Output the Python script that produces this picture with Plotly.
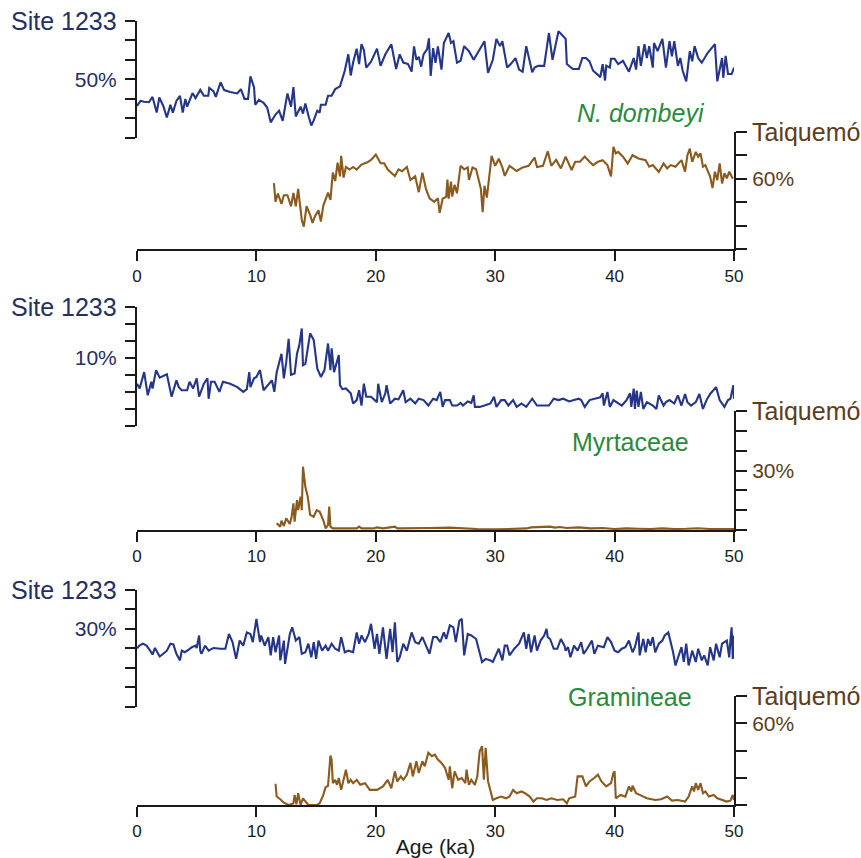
import plotly.graph_objects as go

# ---------------- data ----------------
# Panel 1: N. dombeyi
nd_site_age = [0, 0.3, 0.6, 1.0, 1.3, 1.65, 1.87, 2.2, 2.5, 2.8, 3.0, 3.3, 3.6, 3.83, 4.05, 4.2, 4.65, 4.9, 5.3, 5.6, 5.97, 6.05, 6.4, 6.6, 7.0, 7.3, 7.8, 8.4, 8.7, 9.0, 9.3, 9.5, 9.8, 9.9, 10.2, 10.6, 10.9, 11.2, 11.6, 11.9, 12.2, 12.6, 12.9, 13.1, 13.3, 13.7, 13.9, 14.1, 14.4, 14.6, 14.8, 15.1, 15.3, 15.4, 15.8, 16.0, 16.3, 16.6, 17.0, 17.4, 17.7, 17.9, 18.1, 18.4, 18.6, 18.8, 19.0, 19.2, 19.6, 20.1, 20.4, 20.8, 21.3, 21.7, 22.0, 22.3, 22.7, 23.0, 23.2, 23.4, 23.6, 23.8, 24.0, 24.3, 24.45, 24.6, 24.8, 25.0, 25.2, 25.4, 25.5, 25.7, 25.9, 26.1, 26.3, 26.5, 26.8, 27.1, 27.4, 27.8, 28.2, 28.6, 29.1, 29.4, 29.8, 30.1, 30.4, 30.6, 31.0, 31.3, 31.7, 32.0, 32.3, 32.6, 33.1, 33.3, 33.6, 34.1, 34.5, 34.8, 35.3, 35.9, 36.0, 36.5, 37.0, 37.3, 37.6, 37.9, 38.2, 38.6, 38.8, 39.0, 39.2, 39.3, 39.6, 39.7, 40.0, 40.3, 40.7, 41.2, 41.6, 41.8, 42.0, 42.2, 42.5, 42.7, 42.9, 43.2, 43.3, 43.6, 44.0, 44.3, 44.6, 44.8, 45.0, 45.3, 45.5, 45.7, 46.0, 46.3, 46.5, 46.7, 47.0, 47.3, 47.8, 48.4, 48.6, 49.0, 49.1, 49.3, 49.5, 49.8, 50.0]
nd_site_val = [36.4, 39, 38.5, 38.3, 41, 33, 40.7, 36.4, 30.5, 37, 33, 39, 41.5, 33, 40, 36, 43, 40.4, 44.6, 41.6, 41.6, 45.6, 44, 41, 48.5, 44.5, 43.5, 42.8, 45, 40, 40, 51.5, 46, 37, 39.5, 38, 35.6, 28, 32, 34, 28.8, 42.8, 36, 46, 31, 36, 32.5, 37.6, 30.5, 26.4, 29, 34, 33, 37, 37, 41.6, 41.6, 45, 46.4, 54.4, 62.8, 52, 58.6, 65.7, 57.8, 68, 65, 56, 59, 65.7, 56.9, 62.8, 68, 55.3, 62.8, 58.6, 57.8, 54, 66.9, 60, 61.5, 56.5, 62.8, 65.5, 71, 51.7, 66, 58.5, 66.9, 58.5, 55, 68.6, 71, 73.7, 68.6, 69.5, 58.5, 59.5, 67, 64.4, 60, 64.4, 69.5, 53.3, 60, 70.7, 67, 69.5, 56, 57.8, 60.9, 55, 53.9, 67, 53.6, 56, 56.9, 56.9, 73.7, 60, 74.6, 70.7, 57.8, 55.3, 55.3, 60.9, 60.9, 59.2, 54.4, 52.3, 51.1, 57.8, 49.4, 57, 56, 60.5, 60.5, 57.8, 59.5, 53.9, 60.9, 55, 67, 56.9, 68, 60.9, 67, 56, 68.6, 64.4, 70.7, 56, 69.5, 61.8, 69.5, 56.9, 60.9, 54.4, 49, 64.4, 59.2, 67, 60.9, 58.5, 63.6, 68, 49, 60.9, 50.8, 62, 52.7, 52.7, 56]

nd_taiq_age = [11.47, 11.6, 11.8, 12.1, 12.3, 12.6, 12.9, 13.1, 13.3, 13.5, 13.8, 13.97, 14.2, 14.5, 14.7, 14.9, 15.2, 15.4, 15.6, 16.0, 16.2, 16.4, 16.6, 16.8, 17.0, 17.1, 17.3, 17.5, 17.8, 18.1, 18.4, 18.8, 19.3, 19.6, 20.0, 20.4, 20.7, 21.0, 21.6, 21.9, 22.2, 22.6, 22.9, 23.3, 23.6, 23.9, 24.2, 24.5, 24.9, 25.2, 25.35, 25.6, 25.9, 26.0, 26.1, 26.3, 26.4, 26.6, 26.8, 27.1, 27.4, 27.7, 27.8, 28.1, 28.4, 28.6, 28.8, 28.95, 29.1, 29.3, 29.5, 29.7, 30.0, 30.3, 30.6, 30.8, 31.2, 31.8, 32.3, 32.8, 33.3, 33.5, 34.0, 34.4, 34.7, 35.1, 35.5, 35.9, 36.4, 36.7, 37.1, 37.5, 37.9, 38.2, 38.6, 39.0, 39.4, 39.7, 39.9, 40.1, 40.3, 40.7, 41.1, 41.5, 42.0, 42.6, 42.9, 43.2, 43.7, 44.1, 44.4, 44.7, 45.1, 45.6, 45.9, 46.1, 46.3, 46.5, 46.8, 47.0, 47.2, 47.4, 47.6, 48.0, 48.2, 48.4, 48.6, 48.8, 49.0, 49.2, 49.4, 49.6, 49.9]
nd_taiq_val = [58.1, 50.2, 53.7, 49.3, 53, 53, 48.3, 54, 48.3, 55.7, 42.5, 39.6, 48.3, 44.7, 41.2, 44, 46.6, 41.8, 48.5, 54.1, 51, 62.6, 59, 66.8, 61, 69.7, 60.5, 65, 63.9, 65, 63.9, 66, 67, 68, 70.3, 66.6, 66.6, 63.9, 61.1, 64, 63.2, 65, 59.5, 61, 54.3, 62.6, 55.7, 51.7, 50.2, 51.7, 45.5, 51.5, 52.4, 59.6, 51.5, 58.8, 52.4, 57.4, 53.8, 65.5, 64, 64.8, 59.5, 64.8, 64, 59.5, 55.7, 45.8, 57, 52, 60, 69.7, 65.5, 68.5, 64.8, 61.2, 65.5, 63.3, 64.8, 65.5, 69, 65, 65.5, 71.7, 65.5, 68, 64.4, 69.4, 63.7, 67.2, 67.2, 69.4, 67.2, 65.8, 67.2, 67.9, 65.8, 61, 73.6, 70.8, 71.4, 69.4, 66.5, 70, 68.6, 67.9, 65.1, 65.8, 62.9, 66.5, 64.4, 65.8, 65.1, 67.9, 63, 70, 72.8, 67.2, 71.4, 69.4, 70.8, 65.1, 65.8, 60.9, 56, 63, 59.4, 66.5, 58, 62.3, 60.2, 63, 60]

# Panel 2: Myrtaceae
my_site_age = [0, 0.22, 0.6, 0.9, 1.2, 1.3, 1.6, 1.9, 2.5, 2.8, 2.9, 3.3, 3.5, 3.74, 4.2, 4.4, 4.7, 5.0, 5.2, 5.6, 5.9, 6.0, 6.2, 6.5, 6.9, 7.2, 7.8, 8.4, 8.9, 9.2, 9.4, 9.5, 9.8, 10.0, 10.3, 10.6, 11.0, 11.3, 11.5, 11.7, 12.1, 12.3, 12.5, 12.7, 12.9, 13.2, 13.4, 13.6, 13.8, 13.9, 14.1, 14.5, 14.8, 15.1, 15.4, 15.7, 16.0, 16.2, 16.3, 16.5, 16.9, 17.0, 17.2, 17.5, 17.9, 18.1, 18.4, 18.6, 18.8, 19.0, 19.2, 19.6, 20.1, 20.2, 20.5, 20.8, 20.9, 21.2, 21.6, 21.9, 22.3, 22.5, 22.9, 23.3, 23.6, 24.0, 24.4, 24.8, 25.1, 25.4, 25.6, 25.8, 26.2, 26.4, 26.8, 27.1, 27.3, 27.7, 28.0, 28.2, 28.3, 28.7, 29.1, 29.6, 29.9, 30.1, 30.5, 30.8, 31.1, 31.5, 31.8, 32.2, 32.6, 33.1, 33.5, 34.5, 34.9, 35.3, 35.7, 36.2, 36.6, 37.0, 37.2, 37.5, 37.9, 38.3, 38.8, 39.0, 39.1, 39.4, 39.6, 39.9, 40.2, 40.6, 41.0, 41.3, 41.4, 41.6, 41.7, 41.85, 42.0, 42.2, 42.4, 42.7, 43.2, 43.5, 43.7, 44.1, 44.3, 44.6, 45.0, 45.3, 45.6, 45.9, 46.1, 46.4, 46.8, 47.1, 47.4, 47.7, 48.0, 48.5, 48.8, 49.2, 49.5, 49.7, 49.95, 50.0]
my_site_val = [6.2, 5.5, 7.9, 4.5, 6.5, 5.5, 8.2, 7.1, 7.6, 5.2, 4.3, 6.7, 5.7, 5.25, 5.25, 6.5, 5.5, 7.0, 4.3, 6.2, 7.0, 4.0, 6.5, 6.5, 5.0, 6.5, 6.2, 5.7, 5.0, 5.4, 7.9, 5.7, 7.0, 7.2, 8.2, 5.25, 6.0, 6.7, 5.0, 7.9, 10.6, 7.0, 9.4, 12.8, 7.5, 7.7, 10.6, 11.9, 14.3, 8.9, 9.1, 13.6, 12.6, 8.4, 7.2, 8.2, 12.1, 8.2, 11.4, 7.9, 10.4, 6.0, 5.4, 5.5, 4.8, 3.3, 3.8, 5.25, 3.0, 6.2, 4.3, 4.3, 3.5, 6.2, 3.5, 4.8, 6.0, 3.3, 4.0, 3.9, 5.25, 3.5, 4.0, 3.3, 4.0, 3.8, 3.0, 4.0, 3.8, 5.0, 2.8, 3.8, 3.8, 3.0, 3.0, 3.4, 3.0, 3.6, 3.4, 4.5, 2.8, 2.8, 3.0, 3.3, 4.3, 2.8, 3.8, 3.8, 3.0, 3.8, 2.8, 3.3, 2.8, 4.0, 3.0, 3.0, 4.0, 3.8, 4.0, 3.6, 3.8, 4.0, 3.8, 2.8, 3.8, 4.0, 4.2, 4.8, 3.0, 5.0, 2.8, 3.8, 3.5, 3.0, 3.8, 4.8, 2.8, 5.5, 2.5, 5.2, 2.8, 5.0, 2.5, 3.5, 3.0, 2.5, 4.5, 3.0, 3.5, 3.8, 3.3, 4.5, 3.0, 4.7, 3.5, 3.0, 3.5, 4.7, 2.5, 3.8, 4.7, 5.7, 3.8, 2.8, 3.8, 4.0, 6.0, 4.0]

my_taiq_age = [11.7, 12.0, 12.1, 12.3, 12.5, 12.8, 12.95, 13.1, 13.2, 13.4, 13.5, 13.7, 13.8, 13.9, 14.1, 14.3, 14.5, 14.8, 15.05, 15.3, 15.6, 15.8, 16.0, 16.1, 16.2, 16.4, 17.6, 18.4, 18.6, 18.8, 19.8, 20.1, 20.6, 21.6, 21.8, 24.0, 24.5, 26.2, 27.3, 28.5, 30.1, 32.6, 33.0, 34.6, 35.0, 35.4, 36.0, 37.0, 38.0, 39.0, 40.0, 41.0, 42.0, 43.0, 44.0, 45.0, 46.0, 47.0, 48.0, 49.0, 50.0]
my_taiq_val = [3.4, 1.7, 4.7, 2.0, 5.9, 3.0, 6.7, 13.4, 4.2, 15.1, 10, 16.8, 10, 31.9, 21.8, 16.8, 7.6, 6.7, 10, 9.2, 5, 0.8, 2.5, 11.8, 1.7, 0.8, 0.8, 0.8, 1.7, 0.8, 0.8, 1.3, 0.8, 1.7, 0.8, 1.2, 1.0, 1.2, 0.8, 0.5, 0.3, 0.8, 1.3, 1.7, 1.2, 1.5, 1.0, 1.3, 0.8, 1.0, 0.5, 0.8, 0.6, 0.5, 0.8, 0.5, 0.6, 0.9, 0.5, 0.6, 0.5]

# Panel 3: Gramineae
gr_site_age = [0, 0.2, 0.5, 0.8, 1.1, 1.3, 1.5, 1.9, 2.2, 2.5, 2.8, 3.05, 3.3, 3.6, 3.75, 4.0, 4.3, 4.6, 4.9, 5.0, 5.2, 5.3, 5.4, 5.7, 6.0, 6.4, 7.0, 7.4, 7.7, 8.0, 8.3, 8.6, 8.9, 9.2, 9.5, 9.7, 10.0, 10.3, 10.4, 10.7, 11.0, 11.2, 11.4, 11.6, 11.9, 12.0, 12.3, 12.4, 12.8, 13.0, 13.3, 13.6, 13.8, 14.1, 14.35, 14.6, 14.8, 15.0, 15.2, 15.5, 15.8, 16.0, 16.3, 16.6, 16.9, 17.1, 17.4, 17.7, 18.1, 18.4, 18.6, 18.8, 19.1, 19.4, 19.6, 19.9, 20.1, 20.3, 20.6, 20.9, 21.2, 21.4, 21.6, 21.8, 22.0, 22.3, 22.6, 23.0, 23.3, 23.6, 23.9, 24.4, 24.5, 24.8, 25.1, 25.4, 25.7, 25.9, 26.2, 26.5, 26.7, 27.0, 27.2, 27.4, 27.7, 28.0, 28.4, 28.9, 29.2, 29.6, 29.8, 30.3, 30.6, 30.8, 31.0, 31.2, 31.6, 32.0, 32.4, 32.6, 32.8, 33.0, 33.3, 33.5, 33.8, 34.1, 34.3, 34.4, 34.6, 34.9, 35.2, 35.5, 35.8, 35.9, 36.1, 36.3, 36.6, 36.9, 37.2, 37.4, 37.7, 38.1, 38.3, 38.6, 39.1, 39.4, 39.7, 40.0, 40.3, 40.6, 40.9, 41.2, 41.5, 41.7, 42.0, 42.1, 42.4, 42.6, 42.8, 43.0, 43.2, 43.4, 43.7, 44.0, 44.2, 44.5, 44.7, 44.9, 45.1, 45.4, 45.6, 45.8, 46.0, 46.2, 46.5, 46.8, 47.0, 47.3, 47.5, 47.8, 48.0, 48.3, 48.5, 48.8, 49.0, 49.4, 49.6, 49.7, 49.8, 49.9, 50.0]
gr_site_val = [25.0, 25.7, 26.2, 25.7, 24.4, 23.4, 25.1, 22.9, 23.6, 24.4, 26.2, 26.0, 23.6, 21.9, 24.4, 24.0, 24.6, 25.3, 25.7, 25.1, 28.3, 24.4, 23.6, 25.7, 24.4, 25.1, 24.9, 24.9, 28.7, 26.6, 22.3, 27.0, 25.7, 29.1, 28.7, 26.6, 32.6, 26.6, 28.3, 25.7, 27.9, 23.2, 27.9, 24.0, 28.3, 21.9, 27.0, 21.0, 28.7, 30.4, 27.0, 27.9, 23.6, 24.0, 26.2, 22.7, 26.6, 22.3, 27.0, 24.4, 25.7, 24.4, 26.2, 24.9, 24.4, 27.9, 24.0, 24.4, 24.0, 29.1, 26.2, 28.3, 26.6, 28.7, 31.3, 24.9, 28.7, 23.6, 30.4, 22.3, 30.0, 24.0, 31.7, 21.5, 22.7, 26.2, 24.4, 29.1, 26.6, 26.2, 27.9, 24.4, 23.6, 27.9, 27.9, 26.6, 29.1, 27.4, 30.9, 30.4, 26.6, 32.1, 32.6, 23.2, 28.7, 28.3, 27.4, 21.5, 22.3, 21.9, 21.5, 24.9, 21.9, 25.7, 25.7, 23.2, 24.9, 26.2, 29.1, 24.9, 28.7, 24.0, 28.3, 24.4, 27.0, 28.3, 30.0, 27.9, 27.4, 24.9, 24.9, 27.4, 25.7, 24.4, 25.3, 22.7, 25.7, 24.4, 26.6, 23.6, 24.9, 27.0, 23.6, 25.7, 25.3, 27.9, 26.6, 24.4, 24.0, 24.9, 25.3, 27.0, 24.0, 25.3, 29.1, 23.2, 27.4, 24.0, 27.4, 25.7, 27.9, 24.0, 26.2, 27.0, 28.3, 29.1, 26.6, 24.0, 20.6, 23.2, 25.3, 21.5, 26.2, 20.6, 24.4, 21.5, 24.9, 21.9, 23.2, 20.6, 25.3, 21.9, 26.2, 22.7, 26.2, 27.0, 22.7, 27.0, 30.4, 22.3, 28.3]

gr_taiq_age = [11.6, 11.7, 12.0, 12.3, 12.7, 13.1, 13.2, 13.35, 13.5, 13.7, 13.9, 14.1, 14.35, 15.05, 15.3, 15.6, 15.8, 16.0, 16.2, 16.3, 16.4, 16.6, 16.75, 16.9, 17.1, 17.3, 17.5, 17.7, 17.9, 18.1, 18.4, 18.7, 19.1, 19.5, 20.1, 20.6, 21.0, 21.3, 21.6, 21.8, 22.1, 22.3, 22.6, 22.9, 23.1, 23.4, 23.6, 23.9, 24.1, 24.4, 24.7, 24.95, 25.2, 25.5, 25.8, 26.1, 26.2, 26.4, 26.6, 26.9, 27.2, 27.5, 27.6, 27.8, 28.0, 28.3, 28.5, 28.7, 28.9, 29.05, 29.2, 29.4, 29.6, 29.8, 30.1, 30.5, 30.9, 31.2, 31.5, 31.8, 32.2, 32.5, 32.9, 33.2, 33.5, 33.9, 34.3, 34.7, 35.2, 35.7, 36.0, 36.2, 36.5, 36.7, 36.9, 37.3, 37.6, 37.9, 38.3, 38.6, 38.9, 39.3, 39.7, 39.9, 40.0, 40.1, 40.5, 40.9, 41.2, 41.4, 41.5, 41.8, 42.1, 42.7, 43.4, 43.9, 44.4, 44.8, 45.3, 45.9, 46.2, 46.5, 46.65, 46.8, 47.0, 47.2, 47.4, 47.6, 47.9, 48.3, 48.6, 49.0, 49.4, 49.7, 49.9, 50.0]
gr_taiq_val = [15.6, 6.2, 4.2, 1.7, 0, 1.2, 7.4, 0.5, 8.6, 0, 4.9, 2.5, 0, 0, 1.2, 7.4, 13.1, 14.1, 36.3, 33.3, 16, 18.5, 14.8, 19.8, 11.1, 18.5, 25.9, 16, 18.5, 16, 18.5, 14.8, 16, 11.1, 11.1, 13.6, 18.5, 12.3, 24.7, 17.3, 21, 18.5, 22.2, 30.9, 21, 32.1, 23.5, 32.1, 28.4, 38.3, 35.8, 37, 33.3, 30.9, 27.2, 18.5, 28.4, 12.3, 24.7, 18.5, 19.8, 16, 25.9, 14.8, 18.5, 14.8, 21, 39.5, 43.2, 18.5, 42, 17.3, 11.1, 3.7, 4.9, 6.2, 4.9, 6.2, 11.1, 8.6, 9.9, 8.6, 6.2, 2.5, 4.9, 4.9, 3.7, 4.9, 3.7, 4.2, 1.2, 4.9, 5.7, 6.2, 21, 21, 13.6, 17.3, 19.8, 22.2, 17.3, 13.6, 16, 23.5, 24.7, 4.9, 7.4, 6.2, 13.6, 9.9, 14.1, 8.6, 7.4, 4.9, 3.7, 4.2, 6.2, 3.2, 3.7, 2.5, 6.2, 13.6, 9.9, 16, 11.1, 16, 8.6, 9.9, 6.2, 7.4, 4.9, 3.7, 2.5, 3.2, 7.4, 3.7]

x_ticks = [0, 10, 20, 30, 40, 50]
taxa = ["<i>N. dombeyi</i>", "Myrtaceae", "Gramineae"]
site_label = "Site 1233"
taiq_label = "Taiquemó"
site_ticks = [[20, 30, 40, 50, 60, 70, 80], [0, 2.5, 5, 7.5, 10, 12.5, 15, 17.5], [10, 15, 20, 25, 30, 35, 40]]
site_labeled = [50, 10, 30]
taiq_ticks = [[30, 40, 50, 60, 70, 80], [0, 10, 20, 30, 40, 50, 60], [0, 20, 40, 60, 80]]
taiq_labeled = [60, 30, 60]

# ---------------- style / layout ----------------
W, H = 861, 858
FONT = "Liberation Sans, Arial, Helvetica, sans-serif"
BLUE = "#24358a"
BLUE_TXT = "#262f62"
BROWN = "#8b5a1e"
BROWN_TXT = "#5e3d1c"
GREEN = "#2a8a3c"
AXC = "#1a1a1a"

def fy(px):
    return 1 - px / H

x_dom = [137 / W, 734 / W]
site_px = [(20.7, 138.0), (306.7, 426.0), (590.0, 706.7)]
taiq_px = [(131.7, 249.3), (411.0, 530.0), (696.0, 805.0)]
taxon_pos = [(641, 113), (630, 442), (630, 697)]

site_series = [(nd_site_age, nd_site_val), (my_site_age, my_site_val), (gr_site_age, gr_site_val)]
taiq_series = [(nd_taiq_age, nd_taiq_val), (my_taiq_age, my_taiq_val), (gr_taiq_age, gr_taiq_val)]

fig = go.Figure()
layout = dict(
    template="none",
    width=W, height=H, margin=dict(l=0, r=0, t=0, b=0, autoexpand=False),
    paper_bgcolor="white", plot_bgcolor="rgba(0,0,0,0)",
    showlegend=False, font=dict(family=FONT, color=AXC),
)
annotations = []

for i in range(3):
    xa = "x" if i == 0 else f"x{i+1}"
    ys = 2 * i + 1
    yt = 2 * i + 2
    ya_s = "y" if ys == 1 else f"y{ys}"
    ya_t = f"y{yt}"
    fig.add_trace(go.Scatter(x=site_series[i][0], y=site_series[i][1], xaxis=xa, yaxis=ya_s,
                             mode="lines", line=dict(color=BLUE, width=2.1)))
    fig.add_trace(go.Scatter(x=taiq_series[i][0], y=taiq_series[i][1], xaxis=xa, yaxis=ya_t,
                             mode="lines", line=dict(color=BROWN, width=2.1)))

    xkey = "xaxis" if i == 0 else f"xaxis{i+1}"
    layout[xkey] = dict(
        domain=x_dom, range=[0, 50], anchor=ya_t, automargin=False,
        showline=True, linecolor=AXC, linewidth=2, mirror=False,
        ticks="outside", ticklen=10, tickwidth=2, tickcolor=AXC,
        tickvals=x_ticks, ticktext=[str(v) for v in x_ticks],
        tickfont=dict(size=17, color=AXC, family=FONT),
        showgrid=False, zeroline=False, fixedrange=True,
    )
    if i == 2:
        layout[xkey]["title"] = dict(text="Age (ka)", font=dict(size=21, color=AXC, family=FONT), standoff=1)

    st = site_ticks[i]
    skey = "yaxis" if ys == 1 else f"yaxis{ys}"
    layout[skey] = dict(
        domain=[fy(site_px[i][1]), fy(site_px[i][0])], range=[st[0], st[-1]],
        anchor=xa, side="left", automargin=False,
        showline=True, linecolor=AXC, linewidth=2,
        ticks="outside", ticklen=10, tickwidth=2, tickcolor=AXC,
        tickvals=st, ticktext=[f"{v:g}%" if v == site_labeled[i] else "" for v in st],
        tickfont=dict(size=21, color=BLUE_TXT, family=FONT), ticklabelstandoff=4,
        showgrid=False, zeroline=False, fixedrange=True,
    )
    tt = taiq_ticks[i]
    layout[f"yaxis{yt}"] = dict(
        domain=[fy(taiq_px[i][1]), fy(taiq_px[i][0])], range=[tt[0], tt[-1]],
        anchor=xa, side="right", automargin=False,
        showline=True, linecolor=AXC, linewidth=2,
        ticks="outside", ticklen=11, tickwidth=2, tickcolor=AXC,
        tickvals=tt, ticktext=[f"{v:g}%" if v == taiq_labeled[i] else "" for v in tt],
        tickfont=dict(size=21, color=BROWN_TXT, family=FONT), ticklabelstandoff=1,
        showgrid=False, zeroline=False, fixedrange=True,
    )

    annotations.append(dict(text=site_label, xref="paper", yref="paper",
                            x=119 / W, y=fy(site_px[i][0]), xanchor="right", yanchor="middle",
                            showarrow=False, font=dict(size=25, color=BLUE_TXT, family=FONT)))
    annotations.append(dict(text=taiq_label, xref="paper", yref="paper",
                            x=750 / W, y=fy(taiq_px[i][0]), xanchor="left", yanchor="middle",
                            showarrow=False, font=dict(size=25, color=BROWN_TXT, family=FONT)))
    annotations.append(dict(text=taxa[i], xref="paper", yref="paper",
                            x=taxon_pos[i][0] / W, y=fy(taxon_pos[i][1]), xanchor="center", yanchor="middle",
                            showarrow=False, font=dict(size=25, color=GREEN, family=FONT)))

layout["annotations"] = annotations
fig.update_layout(**layout)
fig.write_html("out.html", config={"displayModeBar": False},
               post_script="document.body.style.margin='0px';document.body.style.overflow='hidden';")
